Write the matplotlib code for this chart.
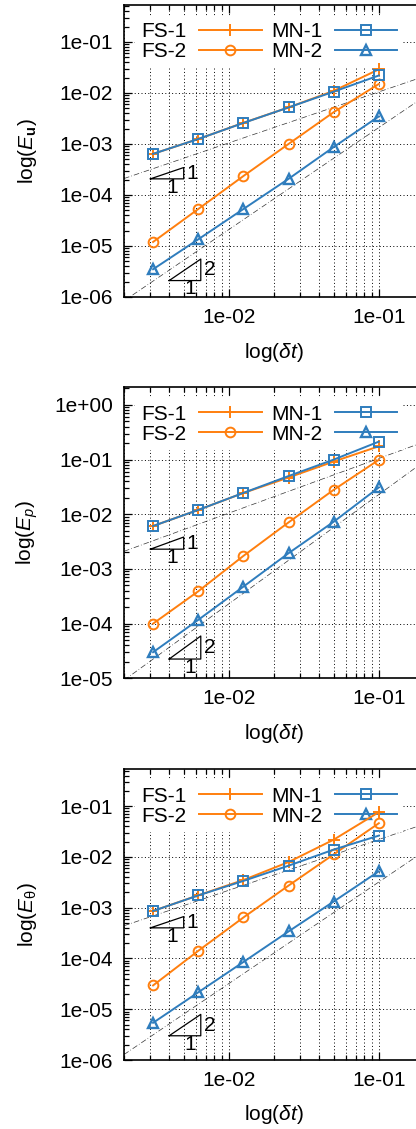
import numpy as np
import matplotlib
matplotlib.use('Agg')
import matplotlib.pyplot as plt
from matplotlib.ticker import LogLocator, FuncFormatter, NullFormatter

plt.rcParams['font.family'] = ['Liberation Sans', 'DejaVu Sans']
plt.rcParams['mathtext.fontset'] = 'custom'
plt.rcParams['mathtext.rm'] = 'Liberation Sans'
plt.rcParams['mathtext.it'] = 'Liberation Sans:italic'
plt.rcParams['mathtext.bf'] = 'Liberation Sans:bold'

# time steps
dt = [0.003125, 0.00625, 0.0125, 0.025, 0.05, 0.1]

# velocity errors
eu_fs1 = [6.4e-4, 1.25e-3, 2.6e-3, 5.2e-3, 1.1e-2, 2.9e-2]
eu_fs2 = [1.2e-5, 5.3e-5, 2.35e-4, 1.0e-3, 4.2e-3, 1.5e-2]
eu_mn1 = [6.4e-4, 1.25e-3, 2.58e-3, 5.2e-3, 1.06e-2, 2.2e-2]
eu_mn2 = [3.5e-6, 1.35e-5, 5.3e-5, 2.07e-4, 8.7e-4, 3.47e-3]

# pressure errors
ep_fs1 = [6.1e-3, 1.2e-2, 2.45e-2, 4.7e-2, 9.2e-2, 1.75e-1]
ep_fs2 = [1.0e-4, 3.9e-4, 1.73e-3, 7.1e-3, 2.8e-2, 9.9e-2]
ep_mn1 = [6.1e-3, 1.2e-2, 2.46e-2, 5.0e-2, 1.0e-1, 2.13e-1]
ep_mn2 = [3.0e-5, 1.17e-4, 4.75e-4, 1.94e-3, 7.3e-3, 3.1e-2]

# temperature errors
et_fs1 = [8.6e-4, 1.75e-3, 3.5e-3, 7.9e-3, 2.18e-2, 7.6e-2]
et_fs2 = [2.94e-5, 1.41e-4, 6.4e-4, 2.72e-3, 1.12e-2, 4.6e-2]
et_mn1 = [8.6e-4, 1.74e-3, 3.36e-3, 6.7e-3, 1.39e-2, 2.62e-2]
et_mn2 = [5.4e-6, 2.15e-5, 8.5e-5, 3.4e-4, 1.32e-3, 5.2e-3]

# reference slopes C*dt and C*dt^2
ref1_c = [0.105, 1.05, 0.22]
ref2_c = [0.21, 2.3, 0.32]
# slope triangles: base height of the order-1 and order-2 triangles
tri1_base = [2.07e-4, 2.3e-3, 4.0e-4]
tri2_base = [2.1e-6, 2.25e-5, 3.0e-6]
tri1_x = [0.003, 0.005]
tri2_x = [0.004, 0.0065]

ylims = [(1e-6, 0.53), (1e-5, 2.1), (1e-6, 0.53)]
ylabels = [r'log($E_\mathbf{u}$)', r'log($E_p$)', r'log($E_\mathrm{\theta}$)']
xlim = (0.002, 0.2)

orange = '#ff7f0e'
blue = '#2f7dbd'

W, H = 416, 1129
fig = plt.figure(figsize=(W / 100, H / 100), dpi=100)

# axes boxes in pixels: left, top, bottom
boxes = [(124, 5, 297), (124, 387.3, 678.3), (124, 769.3, 1060)]
right_px = 424

data = [(eu_fs1, eu_fs2, eu_mn1, eu_mn2),
        (ep_fs1, ep_fs2, ep_mn1, ep_mn2),
        (et_fs1, et_fs2, et_mn1, et_mn2)]

fs = 15
for i, (l, t, b) in enumerate(boxes):
    ax = fig.add_axes([l / W, 1 - b / H, (right_px - l) / W, (b - t) / H])
    ax.set_xscale('log')
    ax.set_yscale('log')
    ax.set_xlim(*xlim)
    ax.set_ylim(*ylims[i])

    fs1, fs2, mn1, mn2 = data[i]
    ax.plot(dt, fs1, '-', color=orange, lw=1.4, marker='+', ms=9, mew=1.4, label='FS-1', zorder=6)
    ax.plot(dt, fs2, '-', color=orange, lw=1.4, marker='o', ms=7, mfc='none', mew=1.4, label='FS-2', zorder=6)
    ax.plot(dt, mn1, '-', color=blue, lw=1.4, marker='s', ms=7, mfc='none', mew=1.4, label='MN-1', zorder=6)
    ax.plot(dt, mn2, '-', color=blue, lw=1.4, marker='^', ms=7.5, mfc='none', mew=1.7, label='MN-2', zorder=6)

    # reference slopes
    xr = np.array(xlim)
    ax.plot(xr, ref1_c[i] * xr, color='#333333', lw=0.5, ls=(0, (8, 3, 1, 3)), zorder=3)
    ax.plot(xr, ref2_c[i] * xr ** 2, color='#333333', lw=0.5, ls=(0, (8, 3, 1, 3)), zorder=3)

    # slope triangles
    for (x0, x1), y0, p in [(tri1_x, tri1_base[i], 1), (tri2_x, tri2_base[i], 2)]:
        y1 = y0 * (x1 / x0) ** p
        ax.plot([x0, x1, x1, x0], [y0, y0, y1, y0], color='black', lw=0.9, zorder=3)
        ax.annotate(str(p), (x1, np.sqrt(y0 * y1)), xytext=(2, 0), textcoords='offset points',
                    ha='left', va='center', fontsize=fs)
        ax.annotate('1', (np.sqrt(x0 * x1), y0), xytext=(4, -6), textcoords='offset points',
                    ha='center', va='center', fontsize=fs)

    # grid: vertical at all x ticks, horizontal at decades only
    ax.grid(True, which='major', axis='both', color='black', lw=0.7, ls=(0, (1, 2.5)))
    ax.grid(True, which='minor', axis='x', color='black', lw=0.7, ls=(0, (1, 2.5)))
    ax.set_axisbelow(True)

    ax.xaxis.set_major_locator(LogLocator(base=10, numticks=10))
    ax.xaxis.set_minor_locator(LogLocator(base=10, subs=np.arange(2, 10), numticks=10))
    ax.yaxis.set_major_locator(LogLocator(base=10, numticks=15))
    ax.yaxis.set_minor_locator(LogLocator(base=10, subs=np.arange(2, 10), numticks=15))
    fmt = FuncFormatter(lambda v, pos: f'{v:.0e}')
    ax.xaxis.set_major_formatter(fmt)
    ax.yaxis.set_major_formatter(fmt)
    ax.xaxis.set_minor_formatter(NullFormatter())
    ax.yaxis.set_minor_formatter(NullFormatter())
    ax.tick_params(which='both', direction='in', top=True, right=True, labelsize=fs, width=0.9)
    ax.tick_params(which='major', length=6)
    ax.tick_params(which='minor', length=3.5)
    ax.tick_params(axis='x', which='major', pad=8)
    ax.tick_params(axis='y', which='major', pad=8)
    for s in ax.spines.values():
        s.set_linewidth(1.2)
        s.set_zorder(7)

    ax.set_xlabel(r'log($\delta t$)', fontsize=fs)
    ax.set_ylabel(ylabels[i], fontsize=fs)
    ax.xaxis.set_label_coords(0.5, -55 / (b - t))
    ax.xaxis.label.set_va('center')
    ax.yaxis.set_label_coords(-97 / (right_px - l), 0.5)
    ax.yaxis.label.set_va('center')

    leg = ax.legend(loc='upper left', bbox_to_anchor=(11 / (right_px - l), 1 - 11 / (b - t)),
                    ncol=2, markerfirst=False, frameon=True, fancybox=False,
                    fontsize=fs, handlelength=3.0, handletextpad=0.6, columnspacing=0.45,
                    labelspacing=0.05, borderpad=0.3, borderaxespad=0)
    leg.get_frame().set_facecolor('white')
    leg.get_frame().set_edgecolor('none')
    leg.get_frame().set_alpha(1)
    leg.set_zorder(5)

fig.savefig('out.png', dpi=100)
